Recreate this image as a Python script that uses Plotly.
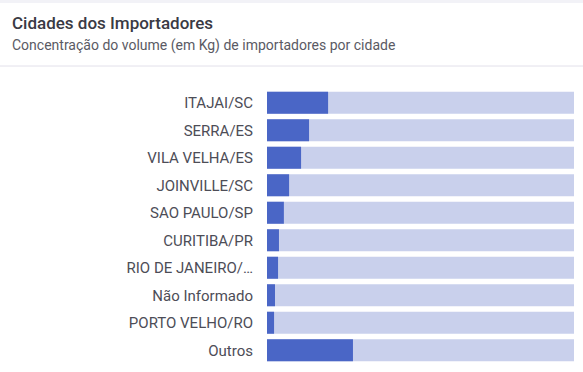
import plotly.graph_objects as go

cities = ["ITAJAI/SC", "SERRA/ES", "VILA VELHA/ES", "JOINVILLE/SC", "SAO PAULO/SP",
          "CURITIBA/PR", "RIO DE JANEIRO/…", "Não Informado", "PORTO VELHO/RO", "Outros"]
share_pct = [19.9, 13.7, 11.1, 7.2, 5.5, 3.9, 3.6, 2.6, 2.3, 28.0]
track_pct = [100] * len(cities)

W, H = 583, 372
L, R, T, B = 267, 9, 89, 8
pw = W - L - R
ph = H - T - B

def px_x(x):
    return (x - L) / pw

def px_y(y):
    return (H - B - y) / ph

fig = go.Figure()
fig.add_trace(go.Bar(y=cities, x=track_pct, orientation="h",
                     marker=dict(color="#c9d0ec", line=dict(width=0)),
                     hoverinfo="skip", showlegend=False))
fig.add_trace(go.Bar(y=cities, x=share_pct, orientation="h",
                     marker=dict(color="#4a66c6", line=dict(width=0)),
                     showlegend=False))

fig.update_layout(
    width=W, height=H,
    margin=dict(l=L, r=R, t=T, b=B),
    paper_bgcolor="white", plot_bgcolor="white",
    barmode="overlay", bargap=0.2,
    font=dict(family="Roboto", color="#45454f"),
    xaxis=dict(range=[0, 100], visible=False, fixedrange=True),
    yaxis=dict(autorange="reversed", showgrid=False, zeroline=False, showline=False,
               automargin=False, fixedrange=True,
               ticks="outside", ticklen=10, tickcolor="rgba(0,0,0,0)",
               tickfont=dict(size=15, family="Roboto", color="#4d4d57")),
    shapes=[
        dict(type="rect", xref="paper", yref="paper", x0=px_x(0), x1=px_x(W),
             y0=px_y(3), y1=px_y(0), fillcolor="#f2f2f7", line=dict(width=0), layer="below"),
        dict(type="line", xref="paper", yref="paper", x0=px_x(0), x1=px_x(W),
             y0=px_y(66), y1=px_y(66), line=dict(color="#e2e0ea", width=1)),
    ],
    annotations=[
        dict(text="Cidades dos Importadores", xref="paper", yref="paper",
             x=px_x(10), y=px_y(22.5), xanchor="left", yanchor="middle", showarrow=False,
             font=dict(family="Roboto", size=17, color="#3a3a44", weight=500)),
        dict(text="Concentração do volume (em Kg) de importadores por cidade", xref="paper", yref="paper",
             x=px_x(10), y=px_y(45.5), xanchor="left", yanchor="middle", showarrow=False,
             font=dict(family="Roboto", size=14, color="#5a5a64")),
    ],
)

fig.write_html("out.html", config={"displayModeBar": False},
               post_script="document.body.style.margin='0';document.body.style.overflow='hidden';")
